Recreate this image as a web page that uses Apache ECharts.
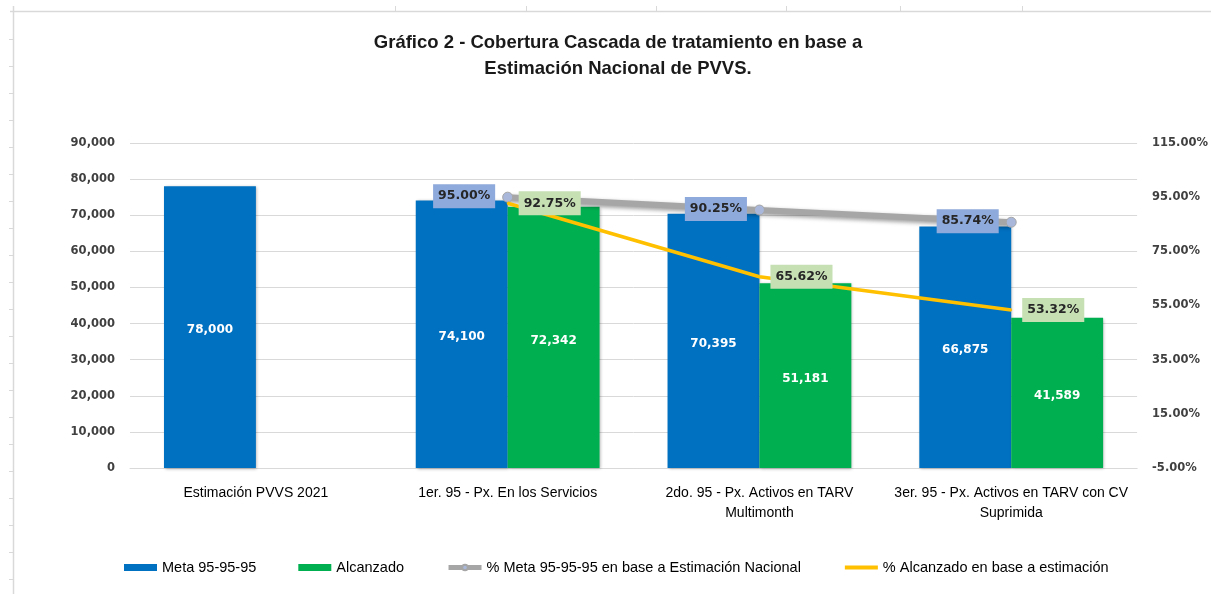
<!DOCTYPE html>
<html>
<head>
<meta charset="utf-8">
<script src="https://cdn.jsdelivr.net/npm/echarts@6/dist/echarts.min.js"></script>
<style>html,body{margin:0;padding:0;background:#fff}#c{width:1211px;height:594px}</style>
</head>
<body>
<div id="c"></div>
<script>
const categories = [
  "Estimación PVVS 2021",
  "1er. 95 - Px. En los Servicios",
  "2do. 95 - Px. Activos en TARV\nMultimonth",
  "3er. 95 - Px. Activos en TARV con CV\nSuprimida"
];
const metaValues = [78000, 74100, 70395, 66875];
const alcanzadoValues = [null, 72342, 51181, 41589];
const pctMeta = [null, 95.00, 90.25, 85.74];
const pctAlcanzado = [null, 92.75, 65.62, 53.32];
const leftTicks = [0, 10000, 20000, 30000, 40000, 50000, 60000, 70000, 80000, 90000];
const rightTicks = [-5, 15, 35, 55, 75, 95, 115];
const seriesNames = ["Meta 95-95-95", "Alcanzado", "% Meta 95-95-95 en base a Estimación Nacional", "% Alcanzado en base a estimación"];

const chart = echarts.init(document.getElementById('c'));
const sans = "'Liberation Sans', Arial, sans-serif";
const verd = "'DejaVu Sans', Verdana, sans-serif";

// decorative spreadsheet frame
const deco = [];
deco.push({type:'line', shape:{x1:10,y1:11.5,x2:1211,y2:11.5}, style:{stroke:'#D9D9D9', lineWidth:1.5}, silent:true});
deco.push({type:'line', shape:{x1:13.5,y1:6,x2:13.5,y2:594}, style:{stroke:'#D9D9D9', lineWidth:1.5}, silent:true});
[395, 526, 656, 786, 900, 1022].forEach(x => deco.push({type:'line', shape:{x1:x+0.5,y1:6,x2:x+0.5,y2:11}, style:{stroke:'#D9D9D9', lineWidth:1}, silent:true}));
for (let y = 39.5; y < 594; y += 27) deco.push({type:'line', shape:{x1:9,y1:y,x2:13,y2:y}, style:{stroke:'#D9D9D9', lineWidth:1}, silent:true});

chart.setOption({
  animation: false,
  backgroundColor: '#ffffff',
  title: {
    text: 'Gráfico 2 - Cobertura Cascada de tratamiento en base a\nEstimación Nacional de PVVS.',
    left: 613, textAlign: 'center', top: 25,
    textStyle: { fontFamily: sans, fontWeight: 'bold', fontSize: 18.5, color: '#1a1a1a', lineHeight: 26 }
  },
  legend: {
    bottom: 14, left: 119,
    itemGap: 42, itemWidth: 33, itemHeight: 7,
    textStyle: { fontFamily: sans, fontSize: 14.5, color: '#000' },
    data: [
      { name: seriesNames[0], icon: 'rect' },
      { name: seriesNames[1], icon: 'rect' },
      { name: seriesNames[2], lineStyle: { width: 5, color: '#A6A6A6' } },
      { name: seriesNames[3], lineStyle: { width: 4, color: '#FFC000' }, itemStyle: { opacity: 0 } }
    ]
  },
  grid: { left: 130, right: 73, top: 143, bottom: 126 },
  xAxis: {
    type: 'category', data: categories,
    axisLine: { show: true, lineStyle: { color: '#D9D9D9' } },
    axisTick: { show: false },
    axisLabel: { fontFamily: sans, fontSize: 14, color: '#000', margin: 15, lineHeight: 20, interval: 0 }
  },
  yAxis: [
    {
      type: 'value', min: 0, max: 90000, interval: 10000,
      axisLine: { show: false }, axisTick: { show: false },
      splitLine: { lineStyle: { color: '#D9D9D9' } },
      axisLabel: { fontFamily: verd, fontWeight: 'bold', fontSize: 11.5, color: '#404040', margin: 15,
        formatter: v => v.toLocaleString('en-US') }
    },
    {
      type: 'value', min: -5, max: 115,
      axisLine: { show: false }, axisTick: { show: false },
      splitLine: { show: false },
      axisLabel: { fontFamily: verd, fontWeight: 'bold', fontSize: 11.5, color: '#404040', margin: 15,
        customValues: rightTicks,
        formatter: v => v.toFixed(2) + '%' }
    }
  ],
  series: [
    {
      name: seriesNames[0], type: 'bar', data: metaValues,
      barGap: '0%', barCategoryGap: '27%',
      itemStyle: { color: '#0070C0', shadowBlur: 3, shadowColor: 'rgba(0,0,0,0.3)', shadowOffsetX: 1, shadowOffsetY: 1 },
      label: { show: true, position: 'inside', offset: [0, 3], color: '#fff', fontFamily: verd, fontWeight: 'bold', fontSize: 12,
        formatter: p => p.value.toLocaleString('en-US') }
    },
    {
      name: seriesNames[1], type: 'bar', data: alcanzadoValues,
      itemStyle: { color: '#00B050', shadowBlur: 3, shadowColor: 'rgba(0,0,0,0.3)', shadowOffsetX: 1, shadowOffsetY: 1 },
      label: { show: true, position: 'inside', offset: [0, 3], color: '#fff', fontFamily: verd, fontWeight: 'bold', fontSize: 12,
        formatter: p => p.value.toLocaleString('en-US') }
    },
    {
      name: seriesNames[2], type: 'line', yAxisIndex: 1, data: pctMeta,
      symbol: 'circle', symbolSize: 10,
      itemStyle: { color: '#A9B8DA', borderColor: '#A6A6A6', borderWidth: 1 },
      lineStyle: { color: '#A6A6A6', width: 6, shadowBlur: 4, shadowColor: 'rgba(0,0,0,0.4)', shadowOffsetY: 2 },
      label: { show: true, position: 'left', distance: 7, offset: [0, -1],
        backgroundColor: '#8EA9DB', padding: [6, 5, 5, 5],
        color: '#262626', fontFamily: verd, fontWeight: 'bold', fontSize: 12.5,
        formatter: p => p.value.toFixed(2) + '%' },
      z: 5
    },
    {
      name: seriesNames[3], type: 'line', yAxisIndex: 1, data: pctAlcanzado,
      symbol: 'circle', symbolSize: 2, showSymbol: true,
      lineStyle: { color: '#FFC000', width: 3.5 },
      itemStyle: { color: '#FFC000' },
      label: { show: true, position: 'right', distance: 10, offset: [0, -1],
        backgroundColor: '#C6E0B4', padding: [6, 5, 5, 5],
        color: '#262626', fontFamily: verd, fontWeight: 'bold', fontSize: 12.5,
        formatter: p => p.value.toFixed(2) + '%' },
      labelLayout: { hideOverlap: false },
      z: 6
    }
  ],
  graphic: deco
});
</script>
</body>
</html>
